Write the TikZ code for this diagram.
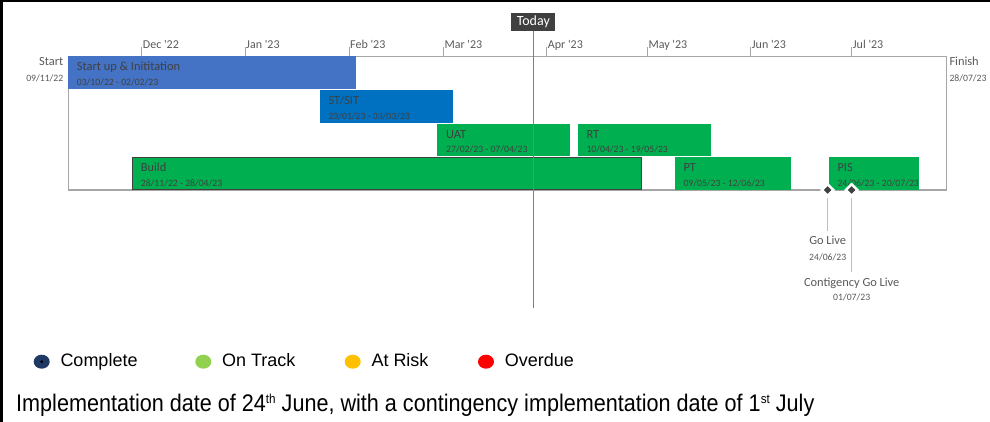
\documentclass[tikz,border=0pt]{standalone}
\usepackage{fontspec}
\setmainfont{Carlito}
\newfontfamily\keyfont{Liberation Sans}
\newfontfamily\notefont[FakeStretch=0.9]{Liberation Sans}
\usetikzlibrary{positioning,shapes.geometric}

\definecolor{suiblue}{HTML}{4472C4}
\definecolor{sitblue}{HTML}{0070C0}
\definecolor{ongreen}{HTML}{00B050}
\definecolor{darkgrey}{HTML}{404040}
\definecolor{textgrey}{HTML}{595959}
\definecolor{framegrey}{HTML}{A6A6A6}
\definecolor{pingrey}{HTML}{BFBFBF}
\definecolor{todaygrey}{HTML}{7F7F7F}
\definecolor{completeblue}{HTML}{203864}
\definecolor{trackgreen}{HTML}{92D050}
\definecolor{riskamber}{HTML}{FFC000}

\newcommand{\notesup}[1]{\raisebox{8.5pt}{\fontsize{13}{13}\selectfont #1}}

\tikzset{
  bar/.style={anchor=north west, inner sep=0pt, minimum height=32.5pt},
  task/.style={anchor=base west, inner sep=0pt, text=darkgrey, font=\fontsize{12.4}{14}\selectfont},
  span/.style={anchor=base west, inner sep=0pt, text=darkgrey, font=\fontsize{9.7}{11}\selectfont},
  month/.style={anchor=base west, inner sep=0pt, text=textgrey, font=\fontsize{12}{14}\selectfont},
  side/.style={inner sep=0pt, text=textgrey, font=\fontsize{12.4}{14}\selectfont},
  sidedate/.style={inner sep=0pt, text=textgrey, font=\fontsize{9.7}{11}\selectfont},
  milestone/.style={diamond, fill=darkgrey, draw=white, line width=2.5pt, inner sep=0pt, minimum size=12.5pt},
  dot/.style={ellipse, inner sep=0pt, minimum width=16pt, minimum height=14pt},
  key/.style={anchor=base west, inner sep=0pt, font=\keyfont\fontsize{18}{21}\selectfont}
}

\begin{document}
\begin{tikzpicture}[x=1pt,y=-1pt]
  \useasboundingbox (0,0) rectangle (990,422);
  \fill[black] (0,0) rectangle (990,2.5);
  \fill[black] (0,0) rectangle (3,422);

  % timeline frame and months
  \node[draw=framegrey, line width=1.2pt, anchor=north west, inner sep=0pt, minimum width=878.3pt, minimum height=133.5pt] (frame) at (67.7,56) {};
  \foreach \x/\m [count=\i] in {141.7/Dec \textquotesingle22, 245/Jan \textquotesingle23, 349/Feb \textquotesingle23, 443.3/Mar \textquotesingle23, 546.7/Apr \textquotesingle23, 647.3/May \textquotesingle23, 750.7/Jun \textquotesingle23, 851.7/Jul \textquotesingle23}{
    \draw[framegrey, line width=1pt] (\x,47.5) -- (\x,56);
    \node[month] (month-\i) at (\x+1,48.7) {\m};
  }
  \node[side, anchor=base east] (start) at (63.5,66) {Start};
  \node[sidedate, anchor=base east] (start-date) at (63.5,82) {09/11/22};
  \node[side, anchor=base west] (finish) at (949.3,66) {Finish};
  \node[sidedate, anchor=base west] (finish-date) at (949.3,82) {28/07/23};

  % tasks
  \foreach \n/\x/\y/\w/\c/\e/\t/\d in {
    sui/67.7/56/287.6/suiblue/none/{Start up \& Inititation}/{03/10/22 - 02/02/23},
    sit/319.3/90/133/sitblue/none/{ST/SIT}/{23/01/23 - 03/03/23},
    uat/437/123.5/133/ongreen/none/{UAT}/{27/02/23 - 07/04/23},
    rt/577.3/123.5/133.4/ongreen/none/{RT}/{10/04/23 - 19/05/23},
    build/131.7/157/509/ongreen/darkgrey/{Build}/{28/11/22 - 28/04/23},
    pt/674.3/157/116.7/ongreen/none/{PT}/{09/05/23 - 12/06/23},
    pis/828.3/157/90/ongreen/none/{PIS}/{24/06/23 - 20/07/23}}{
    \node[bar, fill=\c, draw=\e, minimum width=\w pt] (\n) at (\x,\y) {};
    \node[task] (\n-title) at ([xshift=9pt,yshift=-15pt]\n.north west) {\t};
    \node[span] (\n-dates) at ([xshift=9pt,yshift=-29.5pt]\n.north west) {\d};
  }

  % today
  \node[fill=darkgrey, text=white, font=\fontsize{14}{16}\selectfont, inner sep=0pt, minimum width=44pt, minimum height=18pt] (today) at (533.3,22) {Today};
  \coordinate (today-end) at (533.3,308);
  \draw[todaygrey, line width=1pt] (today.south) -- (today-end);

  % milestones
  \node[milestone] (golive) at (827.7,190) {};
  \node[milestone] (contingency) at (851.7,190) {};
  \coordinate (golive-end) at (827.7,231);
  \coordinate (contingency-end) at (851.7,272);
  \draw[pingrey, line width=1pt] ([yshift=-1pt]golive.south) -- (golive-end);
  \draw[pingrey, line width=1pt] ([yshift=-1pt]contingency.south) -- (contingency-end);
  \node[side, anchor=base] (golive-label) at (827.7,244) {Go Live};
  \node[sidedate, anchor=base] (golive-date) at (827.7,260) {24/06/23};
  \node[side, anchor=base] (contingency-label) at (851.7,286) {Contigency Go Live};
  \node[sidedate, anchor=base] (contingency-date) at (851.7,300.5) {01/07/23};

  % legend
  \foreach \n/\x/\c/\t in {complete/41.7/completeblue/Complete, track/203.3/trackgreen/On Track, risk/352.7/riskamber/At Risk, overdue/486/red/Overdue}{
    \node[dot, fill=\c] (\n-dot) at (\x,361.7) {};
    \node[key] (\n) at (\x+18.6,366.7) {\t};
  }
  \fill[black] (complete-dot) circle (1.6);
  \node[anchor=base west, inner sep=0pt, font=\notefont\fontsize{24}{28}\selectfont] (note) at (16,411.7) {Implementation date of 24\notesup{th} June, with a contingency implementation date of 1\notesup{st} July};
\end{tikzpicture}
\end{document}
